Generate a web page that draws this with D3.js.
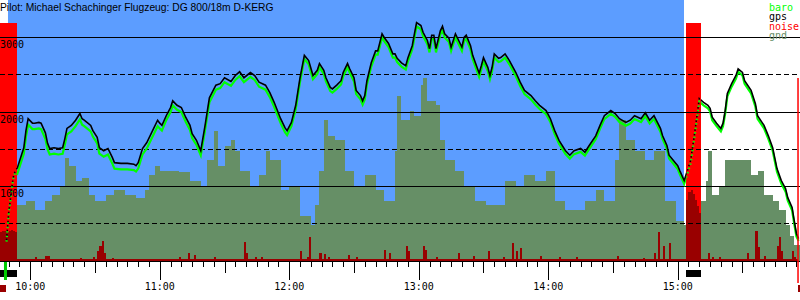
<!DOCTYPE html>
<html>
<head>
<meta charset="utf-8">
<script src="https://cdn.jsdelivr.net/npm/d3@7"></script>
<style>
  html, body { margin: 0; padding: 0; background: #fff; }
  svg { display: block; }
  text { font-family: "DejaVu Sans Mono", monospace; font-size: 10px; }
</style>
</head>
<body>
<div id="chart"></div>
<script>
// ---- data ----
const title = "Pilot: Michael Schachinger Flugzeug: DG 800/18m D-KERG";
const altLines = [1000, 2000, 3000];
const altHalfLines = [500, 1500, 2500];
const hourLabels = ["10:00", "11:00", "12:00", "13:00", "14:00", "15:00"];
const legendNames = ["baro", "gps", "noise", "gnd"];

const fixTimes = [
  "09:49","09:50","09:51","09:52","09:53","09:54","09:57","09:58","09:59",
  "10:01","10:02","10:04","10:05","10:07","10:08","10:09","10:11","10:13","10:15","10:16","10:17","10:19","10:21","10:23","10:24","10:25","10:28","10:29","10:31","10:32","10:34","10:36","10:38","10:39","10:42","10:45","10:48","10:49","10:50","10:52","10:54","10:56","10:59",
  "11:00","11:01","11:03","11:05","11:06","11:08","11:10","11:12","11:14","11:15","11:17","11:19","11:21","11:23","11:26","11:28","11:30","11:33","11:35","11:37","11:39","11:42","11:44","11:46","11:49","11:51","11:53","11:56","11:58","11:59",
  "12:01","12:03","12:05","12:07","12:09","12:11","12:13","12:14","12:16","12:17","12:19","12:20","12:22","12:24","12:25","12:27","12:28","12:30","12:31","12:33","12:34","12:35","12:36","12:38","12:40","12:41","12:43","12:44","12:46","12:48","12:49","12:50","12:52","12:54","12:55","12:57","12:58","12:59",
  "13:01","13:02","13:04","13:05","13:06","13:07","13:08","13:10","13:11","13:12","13:14","13:15","13:17","13:18","13:20","13:21","13:22","13:24","13:25","13:27","13:28","13:29","13:30","13:32","13:33","13:34","13:35","13:37","13:38","13:40","13:42","13:45","13:47","13:49","13:52","13:54","13:56","13:59",
  "14:01","14:03","14:05","14:08","14:10","14:12","14:15","14:17","14:19","14:22","14:24","14:26","14:29","14:31","14:33","14:36","14:38","14:40","14:43","14:45","14:47","14:49","14:52","14:53","14:55","14:56","14:58",
  "15:00","15:01","15:03","15:06","15:08","15:10","15:12","15:14","15:15","15:16","15:18","15:20","15:21","15:22","15:23","15:25","15:27","15:28","15:30","15:31","15:34","15:36","15:37","15:40","15:42","15:44","15:45","15:46","15:48","15:50","15:51","15:53","15:54","15:55","15:56"
];
const gpsAlt = [
  280,650,880,1110,1210,1250,1520,1750,1910,
  1850,1850,1860,1850,1720,1580,1510,1520,1510,1520,1640,1780,1820,1890,1980,1910,1890,1820,1750,1660,1520,1480,1510,1390,1320,1310,1310,1300,1280,1320,1510,1590,1710,1890,
  1850,1820,1950,2060,2150,2090,2060,1930,1820,1710,1620,1480,1820,2190,2360,2380,2460,2410,2490,2540,2460,2530,2490,2400,2360,2260,2130,1910,1790,1750,
  1860,2090,2460,2760,2690,2490,2560,2650,2560,2460,2330,2310,2360,2420,2530,2650,2580,2460,2290,2220,2150,2220,2420,2660,2820,2820,3050,3000,2920,2780,2780,2720,2660,2620,2730,2890,3050,3200,
  3160,3070,2960,2850,3030,3030,2850,3090,3150,3050,2990,2870,3050,2990,2870,3000,3030,2890,2760,2600,2520,2620,2730,2600,2490,2600,2780,2720,2730,2780,2690,2530,2400,2290,2220,2150,2090,2020,
  1910,1750,1620,1480,1420,1480,1510,1460,1550,1680,1820,1950,2020,1980,1910,1860,1890,1950,1910,1990,1890,1950,1780,1680,1550,1420,1350,
  1280,1210,1080,1350,1750,2180,2130,2090,2050,1930,1850,1780,1850,2020,2250,2380,2490,2580,2530,2420,2290,2110,1950,1820,1680,1520,1380,1240,1080,970,850,720,540,370,300
];
const baroAlt = [
  260,630,860,1090,1190,1170,1440,1670,1830,
  1770,1770,1780,1770,1640,1500,1430,1440,1430,1440,1560,1700,1740,1810,1900,1830,1810,1740,1670,1580,1440,1400,1430,1310,1240,1230,1230,1220,1200,1240,1430,1510,1630,1810,
  1780,1750,1890,2000,2090,2030,2000,1870,1760,1650,1560,1420,1760,2130,2300,2320,2400,2350,2430,2480,2400,2470,2430,2340,2300,2200,2070,1850,1730,1690,
  1810,2040,2410,2710,2640,2440,2510,2600,2510,2410,2280,2260,2310,2370,2480,2600,2530,2410,2240,2170,2100,2170,2370,2610,2770,2770,3000,2950,2870,2730,2730,2670,2610,2570,2680,2840,3000,3150,
  3110,3020,2910,2800,2980,2980,2800,3040,3100,3000,2940,2820,3000,2940,2820,2950,2980,2840,2710,2550,2470,2570,2680,2550,2440,2550,2730,2670,2680,2730,2640,2480,2350,2240,2170,2100,2040,1970,
  1865,1705,1575,1435,1375,1435,1465,1415,1505,1635,1775,1905,1975,1935,1865,1815,1845,1905,1865,1945,1845,1905,1735,1635,1505,1375,1305,
  1235,1165,1035,1310,1710,2140,2090,2050,2010,1890,1810,1740,1810,1980,2210,2340,2450,2540,2490,2380,2250,2070,1910,1780,1640,1480,1340,1200,1040,930,810,680,500,330,270
];

const gndTimes = [
  "09:46","09:54","09:58","10:02","10:07","10:10","10:14","10:16","10:18","10:21","10:24","10:27","10:30","10:35","10:39","10:44","10:49","10:53","10:55","10:58",
  "11:00","11:05","11:09","11:14","11:19","11:22","11:25","11:27","11:30","11:33","11:35","11:37","11:42","11:46","11:49","11:51","11:56",
  "12:00","12:05","12:10","12:12","12:14","12:16","12:18","12:21","12:26","12:30","12:35","12:40","12:44","12:49","12:50","12:52","12:56","12:58",
  "13:01","13:02","13:04","13:08","13:10","13:12","13:17","13:21","13:26","13:31","13:35","13:40","13:45","13:49","13:54","13:59",
  "14:03","14:08","14:12","14:17","14:22","14:26","14:31","14:33","14:36","14:40","14:45","14:49","14:54","14:59",
  "15:03","15:10","15:13","15:14","15:16","15:19","15:22","15:27","15:31","15:34","15:37","15:40","15:44","15:47","15:50","15:52","15:54","15:57"
];
const gndAlt = [
  700,750,810,680,810,880,1010,1380,1280,1080,1110,880,810,880,950,880,840,950,1150,1280,
  1210,1210,1190,1080,1010,1350,1750,1280,1550,1620,1480,1210,1010,1150,1480,1350,950,
  1010,610,480,750,1210,1890,1680,1620,1210,1010,1150,950,810,1480,2220,1890,2020,1950,
  2360,2450,2150,2090,1620,1350,1210,1010,810,750,750,1080,1010,1150,1080,1210,
  810,680,680,810,950,810,1350,1890,1620,1480,1350,1480,810,540,
  480,810,1080,1480,880,1010,1350,1350,1350,1150,1210,880,810,680,480,340,210,70
];

const noiseTimes = [
  "09:46","09:47","09:48","09:49","09:50","09:51","09:52","09:53",
  "10:02","10:07","10:08","10:23","10:29","10:31","10:32","10:33","10:34","10:38",
  "11:09","11:13","11:16","11:25","11:39","11:40","11:44","11:47",
  "12:05","12:08","12:09","12:14","12:16","12:18","12:27","12:31","12:44","12:46","12:54","12:55",
  "13:02","13:03","13:08","13:18","13:25","13:32","13:39","13:43","13:45","13:47","13:56",
  "14:05","14:13","14:32","14:44","14:49","14:51","14:53","14:56",
  "15:04","15:05","15:06","15:07","15:08","15:09","15:10",
  "15:14","15:16","15:19","15:32","15:36","15:37","15:40","15:46","15:47","15:48","15:53","15:54"
];
const noiseVals = [
  120,125,128,120,125,130,128,120,
  15,23,20,12,18,44,65,86,35,12,
  15,35,25,15,78,32,15,18,
  44,18,99,32,28,15,27,15,48,32,61,40,
  61,45,15,32,23,40,15,74,44,53,23,
  15,15,23,12,32,120,61,74,
  255,290,297,280,255,230,200,
  32,18,15,35,128,57,23,61,99,44,44,18
];
const noiseFloor = 8;

const enginePeriods = [["09:46", "09:53:50"], ["15:04", "15:10:45"]];
const taskPeriod = ["09:49:40", "15:02:55"];
const takeoffTime = "09:48:30";
const landingTime = "15:55:45";

// ---- drawing ----
const W = 800, H = 300;
const base = 261;

const parseT = (s) => {
  const p = s.split(":").map(Number);
  return new Date(2000, 0, 1, p[0], p[1], p[2] || 0);
};

const x = d3.scaleTime()
  .domain([parseT("09:45:58"), parseT("15:56:40")])
  .range([0, W]);
const y = d3.scaleLinear().domain([0, 3000]).range([base, 37.5]);
const yNoise = d3.scaleLinear().domain([0, 1000]).range([base, 23]);

const fixes = fixTimes.map((t, i) => ({ t: parseT(t), gps: gpsAlt[i], baro: baroAlt[i] }));
const gnd = gndTimes.map((t, i) => ({ t: parseT(t), v: gndAlt[i] }));
const noise = noiseTimes.map((t, i) => ({ t: parseT(t), v: noiseVals[i] }));
const engines = enginePeriods.map(p => p.map(parseT));

const svg = d3.select("#chart").append("svg")
  .attr("width", W)
  .attr("height", H);

svg.append("rect").attr("width", W).attr("height", H).attr("fill", "#fff");

// task background
svg.append("rect")
  .attr("x", x(parseT(taskPeriod[0])))
  .attr("y", 0)
  .attr("width", x(parseT(taskPeriod[1])) - x(parseT(taskPeriod[0])))
  .attr("height", base)
  .attr("fill", "#5c9dff");

// ground elevation
const gndArea = d3.area()
  .x(d => x(d.t))
  .y0(base)
  .y1(d => y(d.v))
  .curve(d3.curveStepAfter);
svg.append("path")
  .datum(gnd)
  .attr("d", gndArea)
  .attr("fill", "#668f66")
  .attr("shape-rendering", "crispEdges");

// engine running
svg.selectAll(".engine")
  .data(engines)
  .join("rect")
  .attr("class", "engine")
  .attr("x", d => x(d[0]))
  .attr("y", 23)
  .attr("width", d => x(d[1]) - x(d[0]))
  .attr("height", base - 23)
  .attr("fill", "#ff0000")
  .attr("shape-rendering", "crispEdges");

// noise
svg.append("rect")
  .attr("x", 0)
  .attr("y", yNoise(noiseFloor))
  .attr("width", x(parseT(landingTime)))
  .attr("height", base - yNoise(noiseFloor))
  .attr("fill", "#990000")
  .attr("shape-rendering", "crispEdges");

svg.selectAll(".noise")
  .data(noise)
  .join("rect")
  .attr("class", "noise")
  .attr("x", d => x(d.t))
  .attr("y", d => yNoise(d.v))
  .attr("width", d => x(d3.timeMinute.offset(d.t, 1)) - x(d.t))
  .attr("height", d => base - yNoise(d.v))
  .attr("fill", "#990000")
  .attr("shape-rendering", "crispEdges");

// altitude grid
svg.selectAll(".grid")
  .data(altLines)
  .join("line")
  .attr("class", "grid")
  .attr("x1", 0).attr("x2", W)
  .attr("y1", d => Math.floor(y(d)) + 0.5)
  .attr("y2", d => Math.floor(y(d)) + 0.5)
  .attr("stroke", "#000")
  .attr("stroke-width", 1);

svg.selectAll(".grid-half")
  .data(altHalfLines)
  .join("line")
  .attr("class", "grid-half")
  .attr("x1", 0).attr("x2", W)
  .attr("y1", d => Math.floor(y(d)) + 0.5)
  .attr("y2", d => Math.floor(y(d)) + 0.5)
  .attr("stroke", "#000")
  .attr("stroke-width", 1)
  .attr("stroke-dasharray", "5,3");

// clip regions: solid outside engine runs, dotted inside
const defs = svg.append("defs");
const outside = [];
let from = x.range()[0];
engines.forEach(e => { outside.push([from, x(e[0])]); from = x(e[1]); });
outside.push([from, W]);

defs.append("clipPath").attr("id", "clip-out")
  .selectAll("rect").data(outside).join("rect")
  .attr("x", d => d[0]).attr("y", 0)
  .attr("width", d => d[1] - d[0]).attr("height", H);
defs.append("clipPath").attr("id", "clip-in")
  .selectAll("rect").data(engines).join("rect")
  .attr("x", d => x(d[0])).attr("y", 0)
  .attr("width", d => x(d[1]) - x(d[0])).attr("height", H);

const series = [
  { key: "baro", color: "#00ff00", width: 2.2 },
  { key: "gps", color: "#000000", width: 1.6 }
];
series.forEach(s => {
  const line = d3.line().x(d => x(d.t)).y(d => y(d[s.key]));
  svg.append("path")
    .datum(fixes)
    .attr("d", line)
    .attr("fill", "none")
    .attr("stroke", s.color)
    .attr("stroke-width", s.width)
    .attr("clip-path", "url(#clip-out)");
  svg.append("path")
    .datum(fixes)
    .attr("d", line)
    .attr("fill", "none")
    .attr("stroke", s.color)
    .attr("stroke-width", s.width)
    .attr("stroke-dasharray", "1.5,3")
    .attr("clip-path", "url(#clip-in)");
});

// altitude labels
svg.selectAll(".alt-label")
  .data(altLines)
  .join("text")
  .attr("class", "alt-label")
  .attr("x", 0)
  .attr("y", d => Math.floor(y(d)) + 11)
  .attr("fill", "#000")
  .text(d => d);

// time axis
svg.append("line")
  .attr("x1", 0).attr("x2", W)
  .attr("y1", base + 0.5).attr("y2", base + 0.5)
  .attr("stroke", "#000");

const ticks = d3.timeMinute.every(5).range(x.domain()[0], x.domain()[1]);
svg.selectAll(".tick")
  .data(ticks)
  .join("line")
  .attr("class", "tick")
  .attr("x1", d => Math.round(x(d)) + 0.5)
  .attr("x2", d => Math.round(x(d)) + 0.5)
  .attr("y1", base + 1)
  .attr("y2", d => base + 1 + (d.getMinutes() === 0 ? 18 : d.getMinutes() === 30 ? 11 : 5))
  .attr("stroke", "#000");

svg.selectAll(".hour-label")
  .data(hourLabels)
  .join("text")
  .attr("class", "hour-label")
  .attr("x", d => x(parseT(d)))
  .attr("y", 290)
  .attr("text-anchor", "middle")
  .attr("fill", "#000")
  .text(d => d);

// engine run markers under the axis
svg.selectAll(".engine-mark")
  .data(engines)
  .join("rect")
  .attr("class", "engine-mark")
  .attr("x", d => x(d[0]))
  .attr("y", 270)
  .attr("width", d => x(d[1]) - x(d[0]))
  .attr("height", 7)
  .attr("fill", "#000")
  .attr("shape-rendering", "crispEdges");

// takeoff / landing
svg.append("rect")
  .attr("x", x(parseT(takeoffTime)) - 1.5).attr("y", 262)
  .attr("width", 3).attr("height", 18)
  .attr("fill", "#00cc00");
svg.append("rect")
  .attr("x", 0).attr("y", 285)
  .attr("width", 6).attr("height", 7)
  .attr("fill", "#990000");
svg.append("line")
  .attr("x1", x(parseT(landingTime))).attr("x2", x(parseT(landingTime)))
  .attr("y1", 78).attr("y2", 283)
  .attr("stroke", "#ff0000")
  .attr("stroke-width", 1.5);
svg.append("rect")
  .attr("x", 798).attr("y", 285)
  .attr("width", 2).attr("height", 7)
  .attr("fill", "#990000");

// legend
const legendColors = ["#00ff00", "#000000", "#ff0000", "#668f66"];
svg.selectAll(".legend")
  .data(legendNames)
  .join("text")
  .attr("class", "legend")
  .attr("x", 769)
  .attr("y", (d, i) => 10.5 + i * 9.5)
  .attr("fill", (d, i) => legendColors[i])
  .text(d => d);

// title
svg.append("text")
  .attr("x", 0)
  .attr("y", 10.5)
  .style("font-family", "'Liberation Sans', Arial, sans-serif")
  .style("font-size", "10.3px")
  .attr("fill", "#000")
  .text(title);
</script>
</body>
</html>
